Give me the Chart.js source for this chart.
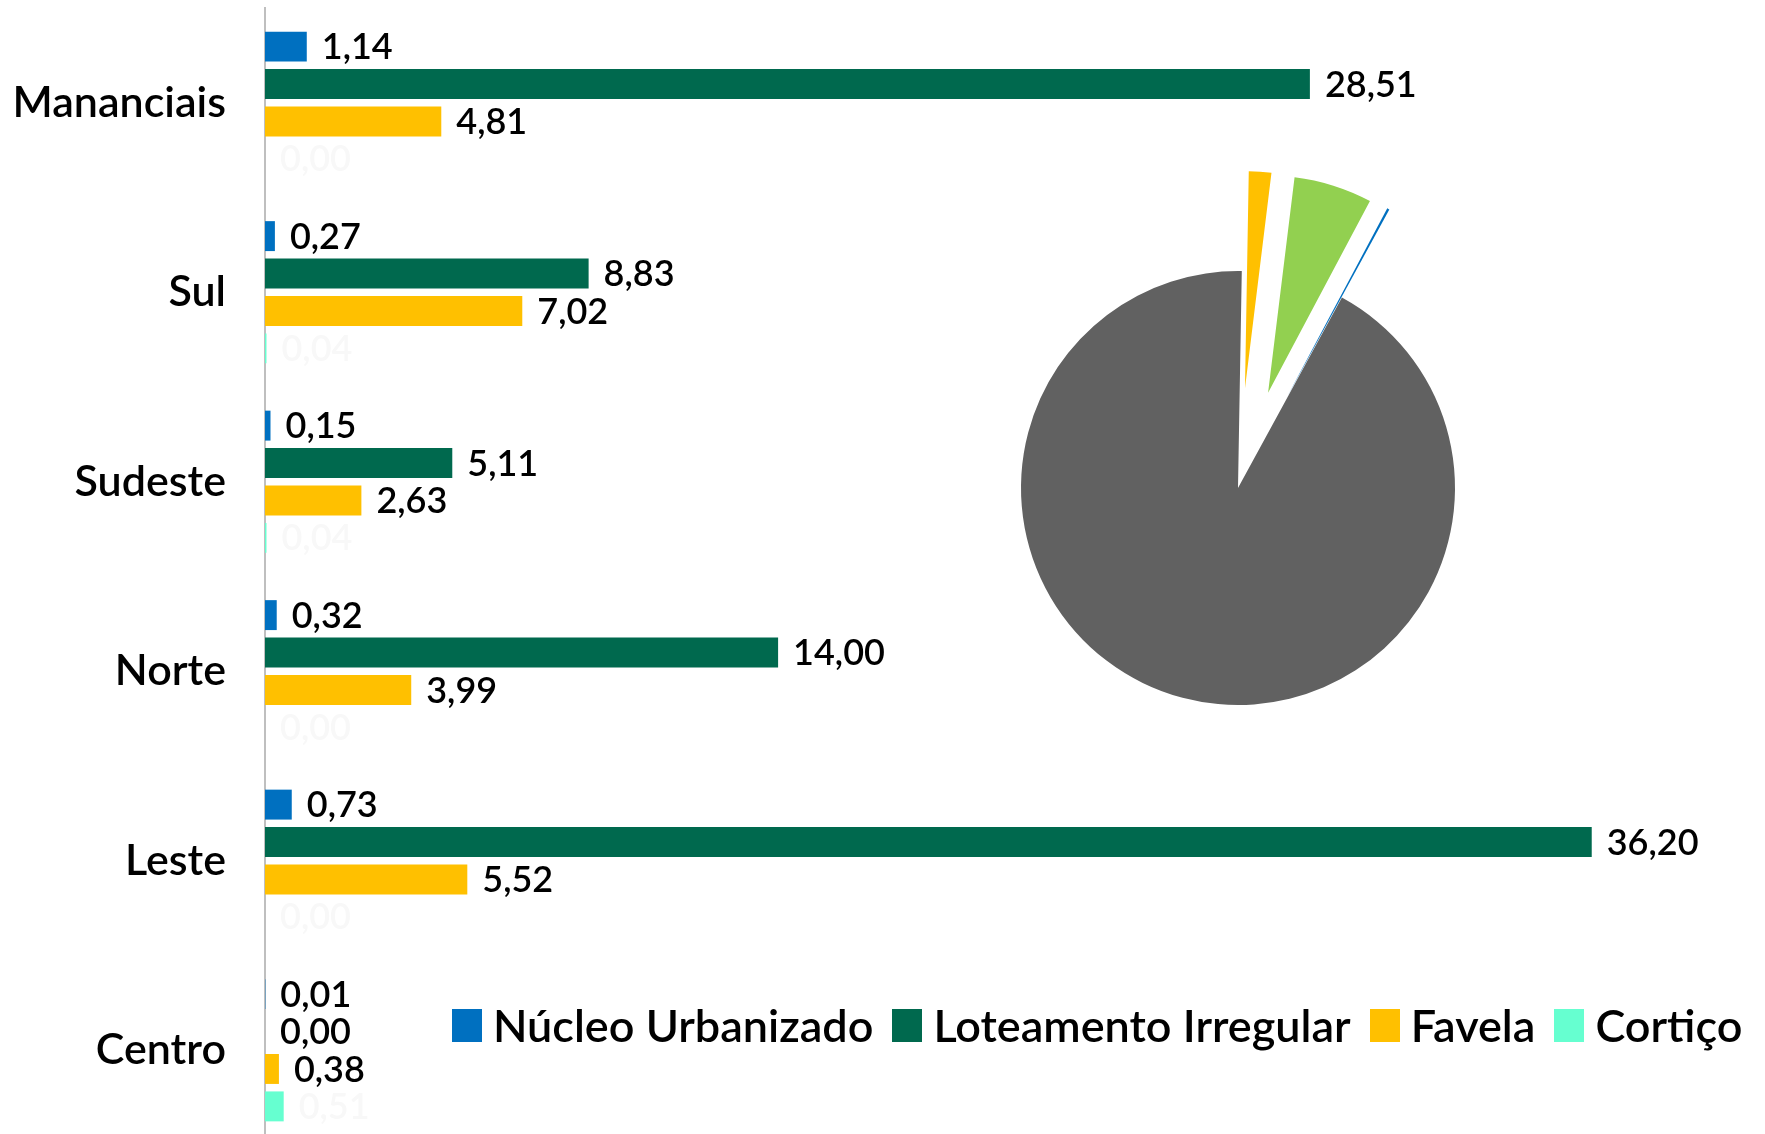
<!DOCTYPE html>
<html>
<head>
<meta charset="utf-8">
<script src="https://cdn.jsdelivr.net/npm/chart.js@4.4.1/dist/chart.umd.min.js"></script>
<style>
  html, body { margin: 0; padding: 0; background: #fff; overflow: hidden; }
  #wrap { position: relative; width: 1765px; height: 1134px; overflow: hidden; }
  #barChart { position: absolute; left: 0; top: 0; }
  #pieChart { position: absolute; left: 888px; top: 138px; }
  #legend {
    position: absolute; left: 452px; top: 998px;
    display: flex; align-items: center;
    font-family: Lato, sans-serif; font-weight: 600; font-size: 45px; color: #000; white-space: nowrap;
  }
  .item { display: flex; align-items: center; margin-right: 19px; }
  .box { width: 30px; height: 33px; margin-right: 11px; }
</style>
</head>
<body>
<div id="wrap">
  <canvas id="barChart" width="1765" height="1150"></canvas>
  <canvas id="pieChart" width="700" height="700"></canvas>
  <div id="legend"></div>
</div>
<script>
// regions and area values (bar chart)
const regions = ['Mananciais', 'Sul', 'Sudeste', 'Norte', 'Leste', 'Centro'];
const nucleoUrbanizado = [1.14, 0.27, 0.15, 0.32, 0.73, 0.01];
const loteamentoIrregular = [28.51, 8.83, 5.11, 14.00, 36.20, 0.00];
const favela = [4.81, 7.02, 2.63, 3.99, 5.52, 0.38];
const cortico = [0.00, 0.04, 0.04, 0.00, 0.00, 0.51];

const seriesNames = ['Núcleo Urbanizado', 'Loteamento Irregular', 'Favela', 'Cortiço'];
const seriesColors = ['#0070C0', '#00694E', '#FFC000', '#66FFD0'];
const labelColors = ['#000', '#000', '#000', '#f8f8f8'];

// pie (percent shares)
const pieLabels = ['Favela', 'Loteamento Irregular', 'Núcleo Urbanizado', 'Demais áreas'];
const pieValues = [1.67, 5.83, 0.17, 92.33];
const pieColors = ['#FFC000', '#92D050', '#0070C0', '#616161'];
const pieExplode = [100, 100, 100, 0];

function fmt(v) {
    return v.toFixed(2).replace('.', ',');
}

// value labels next to the bars
const valueLabels = {
    id: 'valueLabels',
    afterDatasetsDraw(chart) {
        const ctx = chart.ctx;
        ctx.save();
        ctx.font = '600 36px Lato';
        ctx.textBaseline = 'middle';
        ctx.textAlign = 'left';
        chart.data.datasets.forEach((ds, di) => {
            const meta = chart.getDatasetMeta(di);
            ctx.fillStyle = labelColors[di];
            meta.data.forEach((bar, i) => {
                ctx.fillText(fmt(ds.data[i]), bar.x + 15, bar.y + 1);
            });
        });
        ctx.restore();
    }
};

// pull slices out of the pie
const explodeSlices = {
    id: 'explodeSlices',
    beforeDatasetDraw(chart, args) {
        args.meta.data.forEach((arc, i) => {
            const mid = (arc.startAngle + arc.endAngle) / 2;
            arc.x += Math.cos(mid) * pieExplode[i];
            arc.y += Math.sin(mid) * pieExplode[i];
        });
    },
    afterDatasetDraw(chart, args) {
        args.meta.data.forEach((arc, i) => {
            const mid = (arc.startAngle + arc.endAngle) / 2;
            arc.x -= Math.cos(mid) * pieExplode[i];
            arc.y -= Math.sin(mid) * pieExplode[i];
        });
    }
};

function createCharts() {
    const seriesData = [nucleoUrbanizado, loteamentoIrregular, favela, cortico];

    new Chart(document.getElementById('barChart'), {
        type: 'bar',
        data: {
            labels: regions,
            datasets: seriesData.map((d, i) => ({
                label: seriesNames[i],
                data: d,
                backgroundColor: seriesColors[i],
                borderWidth: 0,
                categoryPercentage: 0.79,
                barPercentage: 0.8
            }))
        },
        options: {
            indexAxis: 'y',
            responsive: false,
            animation: false,
            layout: { padding: { left: 0, right: 34, top: 8, bottom: 5 } },
            plugins: { legend: { display: false }, tooltip: { enabled: false } },
            scales: {
                x: { display: false, min: 0, max: 40 },
                y: {
                    grid: { display: false, drawTicks: false },
                    border: { color: '#bfbfbf', width: 2 },
                    ticks: { color: '#000', padding: 39, font: { family: 'Lato', size: 43, weight: '600' } },
                    afterFit: s => {
                        s.width = 265;
                        s.paddingTop = 0;
                        s.paddingBottom = 0;
                    }
                }
            }
        },
        plugins: [valueLabels]
    });

    new Chart(document.getElementById('pieChart'), {
        type: 'pie',
        data: {
            labels: pieLabels,
            datasets: [{
                data: pieValues,
                backgroundColor: pieColors,
                borderWidth: 0
            }]
        },
        options: {
            responsive: false,
            animation: false,
            radius: 217,
            rotation: 1,
            layout: { padding: 0 },
            plugins: { legend: { display: false }, tooltip: { enabled: false } }
        },
        plugins: [explodeSlices]
    });

    const legend = document.getElementById('legend');
    seriesNames.forEach((name, i) => {
        const item = document.createElement('div');
        item.className = 'item';
        const box = document.createElement('div');
        box.className = 'box';
        box.style.background = seriesColors[i];
        const txt = document.createElement('span');
        txt.textContent = name;
        item.appendChild(box);
        item.appendChild(txt);
        legend.appendChild(item);
    });
}

Promise.all([document.fonts.load('600 43px Lato'), document.fonts.load('600 36px Lato')])
    .catch(() => {})
    .then(createCharts);
</script>
</body>
</html>
